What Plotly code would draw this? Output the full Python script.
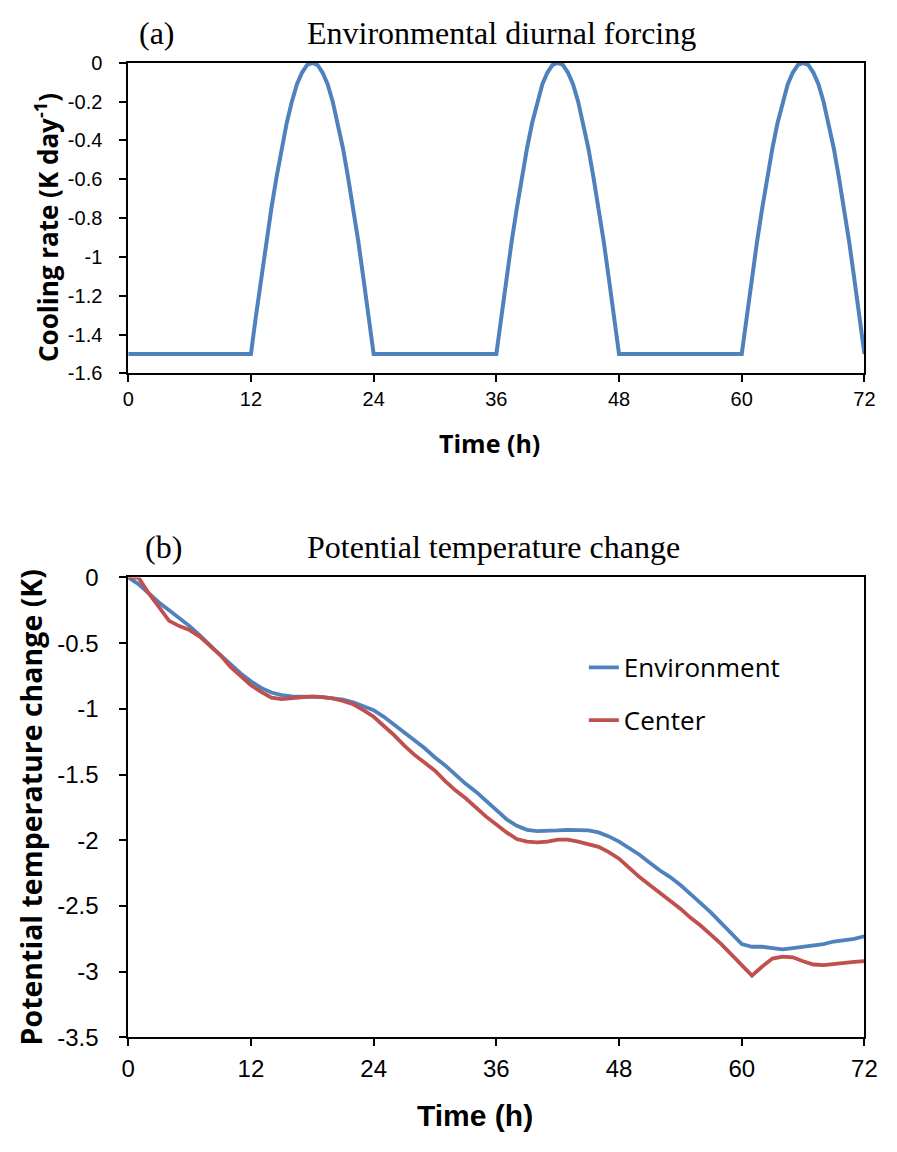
import plotly.graph_objects as go

# ---------------- data ----------------
# (a) environmental diurnal forcing (K/day)
flat_value = -1.5
pulse_offsets = [0, 0.5, 1, 1.5, 2, 2.5, 3, 3.5, 4, 4.5, 5, 5.5, 6,
                 6.5, 7, 7.5, 8, 8.5, 9, 9.5, 10, 10.5, 11, 11.5, 12]
pulse_values = [-1.5, -1.30, -1.11, -0.92, -0.75, -0.59, -0.44, -0.31, -0.20, -0.11, -0.05, -0.01, 0.0,
                -0.01, -0.05, -0.11, -0.20, -0.31, -0.44, -0.59, -0.75, -0.92, -1.11, -1.30, -1.5]
pulse_starts = [12, 36, 60]

time_a = [0]
cooling_rate = [flat_value]
for s in pulse_starts:
    time_a += [s + o for o in pulse_offsets]
    cooling_rate += pulse_values

# (b) potential temperature change (K), hourly
time_b = list(range(0, 73))
environment = [
    0.0, -0.05, -0.12, -0.19, -0.25, -0.31, -0.37, -0.44, -0.52, -0.59,
    -0.66, -0.73, -0.79, -0.84, -0.875, -0.895, -0.905, -0.905, -0.905, -0.91,
    -0.92, -0.93, -0.95, -0.98, -1.01, -1.06, -1.12, -1.18, -1.24, -1.30,
    -1.37, -1.43, -1.50, -1.57, -1.63, -1.70, -1.77, -1.84, -1.89, -1.92,
    -1.93, -1.93, -1.925, -1.92, -1.92, -1.925, -1.94, -1.97, -2.01, -2.06,
    -2.11, -2.17, -2.23, -2.28, -2.34, -2.41, -2.48, -2.55, -2.63, -2.71,
    -2.79, -2.81, -2.81, -2.82, -2.83, -2.82, -2.81, -2.80, -2.79, -2.77,
    -2.76, -2.75, -2.73,
]
center = [
    0.0, 0.0, -0.12, -0.22, -0.33, -0.37, -0.40, -0.45, -0.52, -0.59,
    -0.68, -0.75, -0.82, -0.87, -0.915, -0.925, -0.92, -0.91, -0.905, -0.91,
    -0.92, -0.94, -0.965, -1.01, -1.06, -1.13, -1.20, -1.28, -1.35, -1.41,
    -1.47, -1.55, -1.62, -1.68, -1.75, -1.82, -1.88, -1.94, -1.99, -2.01,
    -2.015, -2.01, -1.995, -1.995, -2.01, -2.03, -2.05, -2.09, -2.14, -2.21,
    -2.28, -2.34, -2.40, -2.46, -2.52, -2.59, -2.65, -2.72, -2.79, -2.87,
    -2.95, -3.03, -2.96, -2.90, -2.885, -2.89, -2.92, -2.945, -2.95, -2.94,
    -2.93, -2.925, -2.92,
]

x_tickvals = [0, 12, 24, 36, 48, 60, 72]
x_ticktext = ["0", "12", "24", "36", "48", "60", "72"]
ya_tickvals = [0, -0.2, -0.4, -0.6, -0.8, -1.0, -1.2, -1.4, -1.6]
ya_ticktext = ["0", "-0.2", "-0.4", "-0.6", "-0.8", "-1", "-1.2", "-1.4", "-1.6"]
yb_tickvals = [0, -0.5, -1.0, -1.5, -2.0, -2.5, -3.0, -3.5]
yb_ticktext = ["0", "-0.5", "-1", "-1.5", "-2", "-2.5", "-3", "-3.5"]

# ---------------- figure ----------------
W, H = 897, 1152
BLUE = "#4F81BD"
RED = "#C0504D"
TICKF = "Liberation Sans, Arial, sans-serif"
SANS = "Open Sans, Noto Sans, sans-serif"
SERIF = "Liberation Serif, Times New Roman, serif"

def px_x(p):
    return p / W

def px_y(p):
    return 1 - p / H

fig = go.Figure()
fig.add_trace(go.Scatter(x=time_a, y=cooling_rate, mode="lines",
                         line=dict(color=BLUE, width=4), showlegend=False,
                         xaxis="x", yaxis="y"))
fig.add_trace(go.Scatter(x=time_b, y=environment, mode="lines", name="Environment",
                         line=dict(color=BLUE, width=3.8), legendgroup="env",
                         xaxis="x2", yaxis="y2"))
fig.add_trace(go.Scatter(x=time_b, y=center, mode="lines", name="Center",
                         line=dict(color=RED, width=3.8), legendgroup="cen",
                         xaxis="x2", yaxis="y2"))

axis_common = dict(showline=True, linecolor="black", linewidth=1.8, mirror=True,
                   ticks="outside", ticklen=7, tickwidth=1.8, tickcolor="black",
                   showgrid=False, zeroline=False)

fig.update_layout(
    width=W, height=H,
    margin=dict(l=0, r=0, t=0, b=0),
    paper_bgcolor="white", plot_bgcolor="white",
    xaxis=dict(domain=[px_x(124), px_x(877)], range=[0, 72], anchor="y",
               tickvals=x_tickvals, ticktext=x_ticktext, ticklabelstandoff=0,
               tickfont=dict(family=TICKF, size=20, color="black"), **axis_common),
    yaxis=dict(domain=[px_y(368), px_y(50)], range=[-1.6, 0], anchor="x",
               tickvals=ya_tickvals, ticktext=ya_ticktext, ticklabelstandoff=13,
               tickfont=dict(family=TICKF, size=20, color="black"), **axis_common),
    xaxis2=dict(domain=[px_x(124), px_x(877)], range=[0, 72], anchor="y2",
                tickvals=x_tickvals, ticktext=x_ticktext, ticklabelstandoff=2,
                tickfont=dict(family=TICKF, size=24, color="black"), **axis_common),
    yaxis2=dict(domain=[px_y(1048), px_y(577)], range=[-3.5, 0], anchor="x2",
                tickvals=yb_tickvals, ticktext=yb_ticktext, ticklabelstandoff=16,
                tickfont=dict(family=TICKF, size=24, color="black"), **axis_common),
    legend=dict(x=px_x(590), y=px_y(645), xanchor="left", yanchor="top",
                font=dict(family=SANS, size=26, color="black"),
                bgcolor="rgba(0,0,0,0)", tracegroupgap=16, itemwidth=30),
)

annotations = [
    dict(text="(a)", x=px_x(133), y=px_y(19), xanchor="left", yanchor="middle",
         font=dict(family=SERIF, size=32, color="black")),
    dict(text="Environmental diurnal forcing", x=px_x(305), y=px_y(19), xanchor="left",
         yanchor="middle", font=dict(family=SERIF, size=32, color="black")),
    dict(text="(b)", x=px_x(139), y=px_y(546), xanchor="left", yanchor="middle",
         font=dict(family=SERIF, size=32, color="black")),
    dict(text="Potential temperature change", x=px_x(305), y=px_y(546), xanchor="left",
         yanchor="middle", font=dict(family=SERIF, size=32, color="black")),
    dict(text="<b>Cooling rate (K day<sup>-1</sup>)</b>", x=px_x(41), y=px_y(219),
         xanchor="center", yanchor="middle", textangle=-90,
         font=dict(family=SANS, size=26, color="black")),
    dict(text="<b>Time (h)</b>", x=px_x(494), y=px_y(439), xanchor="center",
         yanchor="middle", font=dict(family=SANS, size=25, color="black")),
    dict(text="<b>Potential temperature change (K)</b>", x=px_x(25), y=px_y(812),
         xanchor="center", yanchor="middle", textangle=-90,
         font=dict(family=SANS, size=28.5, color="black")),
    dict(text="<b>Time (h)</b>", x=px_x(479), y=px_y(1128), xanchor="center",
         yanchor="middle", font=dict(family=TICKF, size=30, color="black")),
]
for a in annotations:
    a.update(xref="paper", yref="paper", showarrow=False)
fig.update_layout(annotations=annotations)

# remove the default page margin so the figure sits at the window origin
page_fix = """
document.body.style.margin = '0';
document.body.style.overflow = 'hidden';
"""
fig.write_html("out.html", post_script=page_fix, config={"displayModeBar": False})
